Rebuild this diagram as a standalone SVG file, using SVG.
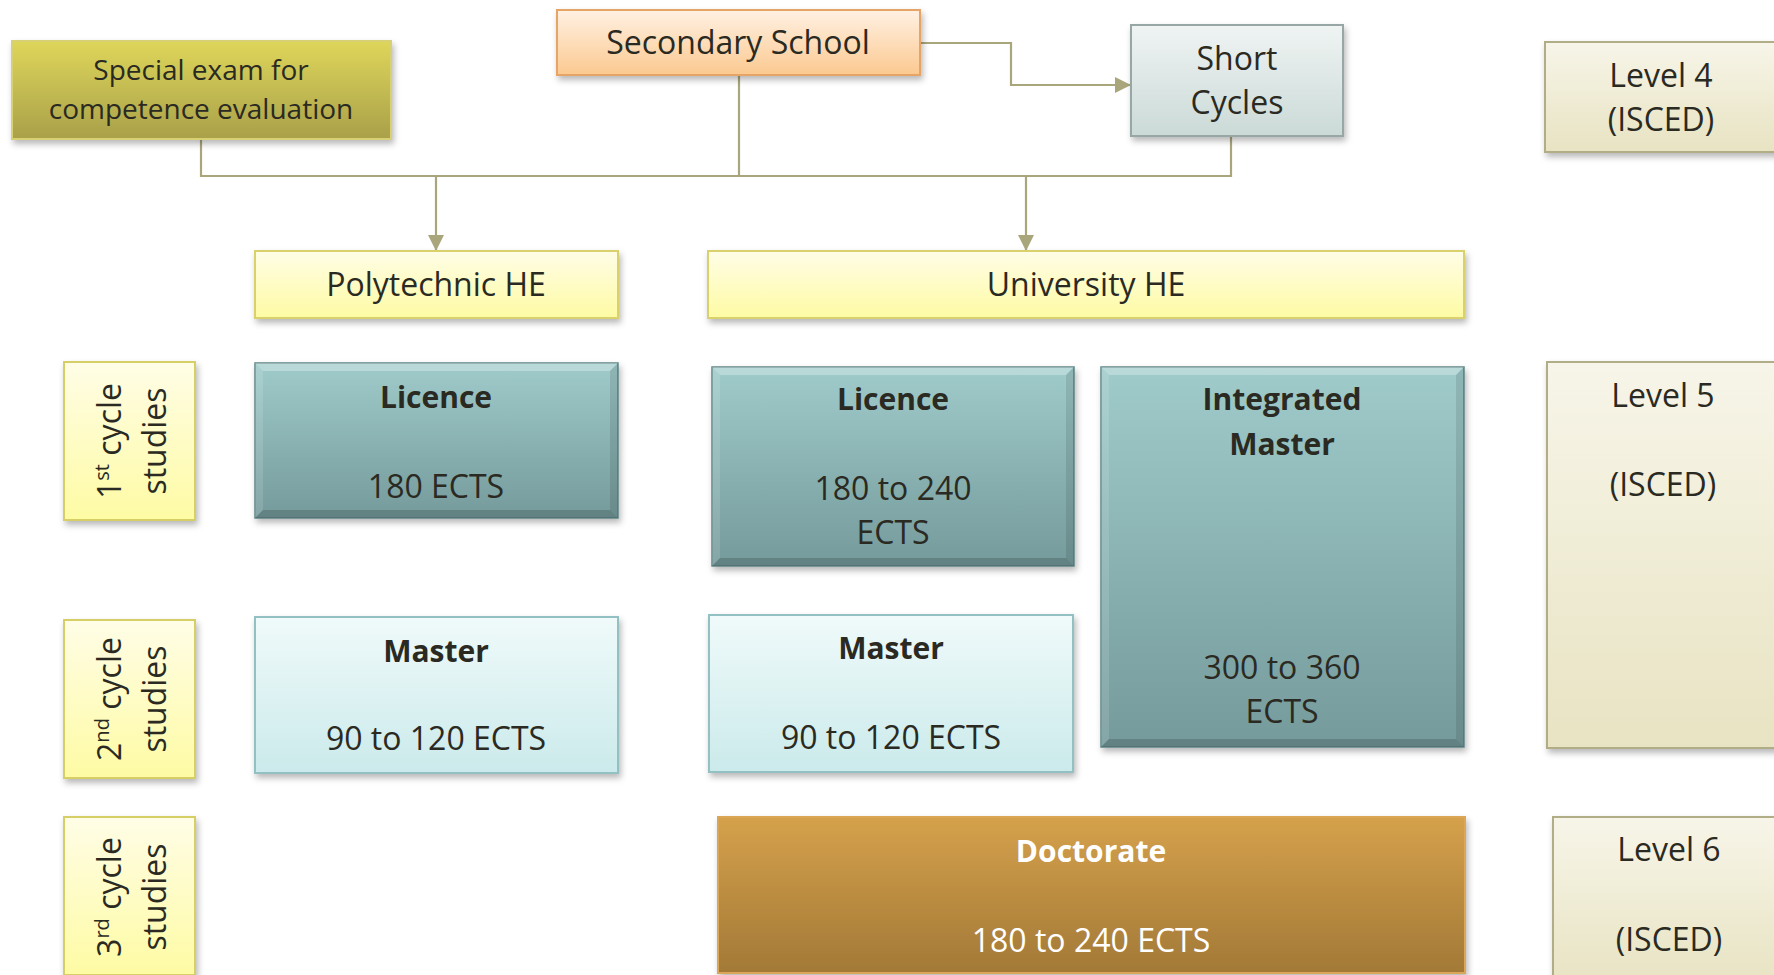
<svg xmlns="http://www.w3.org/2000/svg" width="1774" height="975" viewBox="0 0 1774 975">
<style>
text{font-family:"Open Sans","Liberation Sans",sans-serif;fill:#2a2a22;text-anchor:middle;font-size:32px}
.b{font-weight:bold;font-size:30px}
.w{fill:#ffffff}
.sm{font-size:28px}
.conn{fill:none;stroke:#a9a67c;stroke-width:2.2}
.bev-t{fill:#ffffff;fill-opacity:0.28}
.bev-l{fill:#ffffff;fill-opacity:0.12}
.bev-r{fill:#000000;fill-opacity:0.1}
.bev-b{fill:#000000;fill-opacity:0.16}
</style>
<defs>
<filter id="sh" x="-10%" y="-10%" width="130%" height="140%">
<feDropShadow dx="2" dy="4" stdDeviation="3" flood-color="#000" flood-opacity="0.28"/>
</filter>
<linearGradient id="gOlive" x1="0" y1="0" x2="0" y2="1"><stop offset="0" stop-color="#ded65a"/><stop offset="1" stop-color="#a9a04a"/></linearGradient>
<linearGradient id="gPeach" x1="0" y1="0" x2="0" y2="1"><stop offset="0" stop-color="#fff1e3"/><stop offset="1" stop-color="#fbc990"/></linearGradient>
<linearGradient id="gGrey" x1="0" y1="0" x2="0" y2="1"><stop offset="0" stop-color="#eff4f3"/><stop offset="1" stop-color="#cbdad7"/></linearGradient>
<linearGradient id="gCream" x1="0" y1="0" x2="0" y2="1"><stop offset="0" stop-color="#f7f5e9"/><stop offset="1" stop-color="#e8e3c2"/></linearGradient>
<linearGradient id="gYel" x1="0" y1="0" x2="0" y2="1"><stop offset="0" stop-color="#fffde6"/><stop offset="1" stop-color="#fefba4"/></linearGradient>
<linearGradient id="gTeal" x1="0" y1="0" x2="0" y2="1"><stop offset="0" stop-color="#a0cbcb"/><stop offset="1" stop-color="#759a9b"/></linearGradient>
<linearGradient id="gIce" x1="0" y1="0" x2="0" y2="1"><stop offset="0" stop-color="#f0fafa"/><stop offset="1" stop-color="#cbeaeb"/></linearGradient>
<linearGradient id="gGold" x1="0" y1="0" x2="0" y2="1"><stop offset="0" stop-color="#d5a14b"/><stop offset="1" stop-color="#a27937"/></linearGradient>
<marker id="ah" viewBox="0 0 10 10" refX="10" refY="5" markerWidth="16" markerHeight="16" markerUnits="userSpaceOnUse" orient="auto">
<path d="M0,0 L10,5 L0,10 z" fill="#a9a67c"/>
</marker>
</defs>

<g id="connectors">
<path class="conn" d="M201,139 V176 H1231 V136"/>
<path class="conn" d="M739,75 V176"/>
<path class="conn" d="M436,176 V251" marker-end="url(#ah)"/>
<path class="conn" d="M1026,176 V251" marker-end="url(#ah)"/>
<path class="conn" d="M920,43 H1011 V85 H1131" marker-end="url(#ah)"/>
</g>

<g id="special-exam">
<rect x="12" y="41" width="379" height="98" fill="url(#gOlive)" stroke="#d8d173" stroke-width="2" filter="url(#sh)"/>
<text class="sm" x="201" y="80">Special exam for</text>
<text class="sm" x="201" y="119">competence evaluation</text>
</g>

<g id="secondary-school">
<rect x="557" y="10" width="363" height="65" fill="url(#gPeach)" stroke="#e6a466" stroke-width="2" filter="url(#sh)"/>
<text x="738" y="54">Secondary School</text>
</g>

<g id="short-cycles">
<rect x="1131" y="25" width="212" height="111" fill="url(#gGrey)" stroke="#97a7a6" stroke-width="2" filter="url(#sh)"/>
<text x="1237" y="70">Short</text>
<text x="1237" y="114">Cycles</text>
</g>

<g id="level4">
<rect x="1545" y="42" width="240" height="110" fill="url(#gCream)" stroke="#b1ad86" stroke-width="2" filter="url(#sh)"/>
<text x="1661" y="87">Level 4</text>
<text x="1661" y="131">(ISCED)</text>
</g>

<g id="polytechnic-he">
<rect x="255" y="251" width="363" height="67" fill="url(#gYel)" stroke="#d9d26c" stroke-width="2" filter="url(#sh)"/>
<text x="436" y="296">Polytechnic HE</text>
</g>

<g id="university-he">
<rect x="708" y="251" width="756" height="67" fill="url(#gYel)" stroke="#d9d26c" stroke-width="2" filter="url(#sh)"/>
<text x="1086" y="296">University HE</text>
</g>

<g id="cycle1">
<rect x="64" y="362" width="131" height="158" fill="url(#gYel)" stroke="#d6cf66" stroke-width="2" filter="url(#sh)"/>
<g transform="translate(130,441) rotate(-90)">
<text x="0" y="-9">1<tspan font-size="20" dy="-12">st</tspan><tspan dy="12"> cycle</tspan></text>
<text x="0" y="36">studies</text>
</g>
</g>

<g id="cycle2">
<rect x="64" y="620" width="131" height="158" fill="url(#gYel)" stroke="#d6cf66" stroke-width="2" filter="url(#sh)"/>
<g transform="translate(130,699) rotate(-90)">
<text x="0" y="-9">2<tspan font-size="20" dy="-12">nd</tspan><tspan dy="12"> cycle</tspan></text>
<text x="0" y="36">studies</text>
</g>
</g>

<g id="cycle3">
<rect x="64" y="817" width="131" height="158" fill="url(#gYel)" stroke="#d6cf66" stroke-width="2" filter="url(#sh)"/>
<g transform="translate(130,897) rotate(-90)">
<text x="0" y="-9">3<tspan font-size="20" dy="-12">rd</tspan><tspan dy="12"> cycle</tspan></text>
<text x="0" y="36">studies</text>
</g>
</g>

<g id="poly-licence">
<rect x="255" y="363" width="363" height="155" fill="url(#gTeal)" stroke="#5f8586" stroke-width="1.5" filter="url(#sh)"/>
<polygon class="bev-t" points="255,363 618,363 610,371 263,371"/>
<polygon class="bev-l" points="255,363 263,371 263,510 255,518"/>
<polygon class="bev-r" points="618,363 618,518 610,510 610,371"/>
<polygon class="bev-b" points="255,518 618,518 610,510 263,510"/>
<text class="b" x="436" y="408">Licence</text>
<text x="436" y="498">180 ECTS</text>
</g>

<g id="univ-licence">
<rect x="712" y="367" width="362" height="199" fill="url(#gTeal)" stroke="#5f8586" stroke-width="1.5" filter="url(#sh)"/>
<polygon class="bev-t" points="712,367 1074,367 1066,375 720,375"/>
<polygon class="bev-l" points="712,367 720,375 720,558 712,566"/>
<polygon class="bev-r" points="1074,367 1074,566 1066,558 1066,375"/>
<polygon class="bev-b" points="712,566 1074,566 1066,558 720,558"/>
<text class="b" x="893" y="410">Licence</text>
<text x="893" y="500">180 to 240</text>
<text x="893" y="544">ECTS</text>
</g>

<g id="integrated-master">
<rect x="1101" y="367" width="363" height="380" fill="url(#gTeal)" stroke="#5f8586" stroke-width="1.5" filter="url(#sh)"/>
<polygon class="bev-t" points="1101,367 1464,367 1456,375 1109,375"/>
<polygon class="bev-l" points="1101,367 1109,375 1109,739 1101,747"/>
<polygon class="bev-r" points="1464,367 1464,747 1456,739 1456,375"/>
<polygon class="bev-b" points="1101,747 1464,747 1456,739 1109,739"/>
<text class="b" x="1282" y="410">Integrated</text>
<text class="b" x="1282" y="455">Master</text>
<text x="1282" y="679">300 to 360</text>
<text x="1282" y="723">ECTS</text>
</g>

<g id="level5">
<rect x="1547" y="362" width="240" height="386" fill="url(#gCream)" stroke="#b1ad86" stroke-width="2" filter="url(#sh)"/>
<text x="1663" y="407">Level 5</text>
<text x="1663" y="496">(ISCED)</text>
</g>

<g id="poly-master">
<rect x="255" y="617" width="363" height="156" fill="url(#gIce)" stroke="#93c0c2" stroke-width="2" filter="url(#sh)"/>
<text class="b" x="436" y="662">Master</text>
<text x="436" y="750">90 to 120 ECTS</text>
</g>

<g id="univ-master">
<rect x="709" y="615" width="364" height="157" fill="url(#gIce)" stroke="#93c0c2" stroke-width="2" filter="url(#sh)"/>
<text class="b" x="891" y="659">Master</text>
<text x="891" y="749">90 to 120 ECTS</text>
</g>

<g id="doctorate">
<rect x="718" y="817" width="747" height="156" fill="url(#gGold)" stroke="#dba756" stroke-width="2" filter="url(#sh)"/>
<text class="b w" x="1091" y="862">Doctorate</text>
<text class="w" x="1091" y="952">180 to 240 ECTS</text>
</g>

<g id="level6">
<rect x="1553" y="817" width="240" height="170" fill="url(#gCream)" stroke="#b1ad86" stroke-width="2" filter="url(#sh)"/>
<text x="1669" y="861">Level 6</text>
<text x="1669" y="951">(ISCED)</text>
</g>
</svg>
